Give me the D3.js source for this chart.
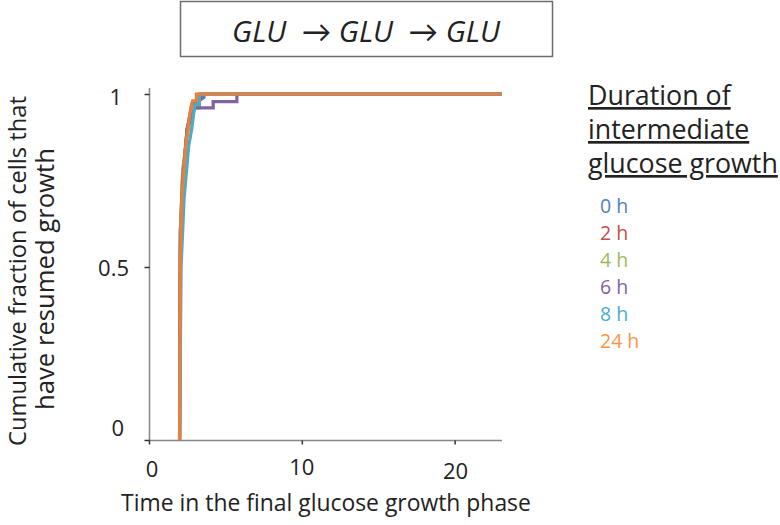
<!DOCTYPE html>
<html><head><meta charset="utf-8">
<script src="https://cdn.jsdelivr.net/npm/d3@7"></script>
<style>body{margin:0;background:#fff}</style>
</head><body>
<svg id="c" width="780" height="525"></svg>
<script>
const categories = ["0 h","2 h","4 h","6 h","8 h","24 h"];
const colors = ["#4f81bd","#c0504d","#9bbb59","#8064a2","#4bacc6","#e8803f"];
const times_0h  = [2.0, 2.05, 2.2, 2.5, 2.9, 3.6, 3.6, 23.1];
const frac_0h   = [0, 0.6, 0.76, 0.9, 0.97, 0.99, 1, 1];
const times_2h  = [2.0, 2.05, 2.2, 2.5, 2.8, 3.4, 3.4, 23.1];
const frac_2h   = [0, 0.6, 0.75, 0.9, 0.97, 0.985, 1, 1];
const times_4h  = [2.0, 2.05, 2.2, 2.5, 2.9, 3.3, 3.3, 23.1];
const frac_4h   = [0, 0.6, 0.78, 0.88, 0.96, 0.96, 1, 1];
const times_6h  = [2.0, 2.05, 2.2, 2.5, 3.0, 4.2, 4.2, 5.75, 5.75, 23.1];
const frac_6h   = [0, 0.55, 0.75, 0.9, 0.96, 0.96, 0.978, 0.978, 1, 1];
const times_8h  = [2.0, 2.1, 2.3, 2.6, 2.8, 3.0, 3.3, 3.3, 23.1];
const frac_8h   = [0, 0.5, 0.7, 0.85, 0.9, 0.97, 0.97, 1, 1];
const times_24h = [2.0, 2.05, 2.15, 2.4, 2.7, 2.85, 3.1, 3.1, 23.1];
const frac_24h  = [0, 0.5, 0.7, 0.85, 0.95, 0.98, 0.98, 1, 1];
const seriesTimes = [times_0h, times_2h, times_4h, times_6h, times_8h, times_24h];
const seriesFracs = [frac_0h, frac_2h, frac_4h, frac_6h, frac_8h, frac_24h];
const xTicks = [0, 10, 20];
const yTicks = [0, 0.5, 1];
const yTickLabels = ["0", "0.5", "1"];
const titleText = "GLU  \u2192 GLU  \u2192 GLU";
const legendTitle = ["Duration of", "intermediate", "glucose growth"];

const svg = d3.select("#c");
const FONT = "'Open Sans', Lato, sans-serif";
const x = d3.scaleLinear().domain([0, 23.1]).range([149, 502]);
const y = d3.scaleLinear().domain([0, 1]).range([440, 94]);
const axisColor = "#868686";

function fit(sel, target) {
  const fs = +sel.attr("font-size");
  const w = sel.node().getComputedTextLength();
  sel.attr("font-size", (fs * target / w).toFixed(2));
  return +sel.attr("font-size");
}

// title box
svg.append("rect").attr("x", 180.5).attr("y", 1.5).attr("width", 372).attr("height", 55)
  .attr("fill", "#fff").attr("stroke", "#6e6e6e").attr("stroke-width", 1.5);
const tt = svg.append("text").attr("x", 366).attr("y", 42).attr("text-anchor", "middle")
  .attr("font-family", FONT).attr("font-style", "italic").attr("font-size", 24)
  .attr("fill", "#222").style("white-space", "pre").text(titleText);
fit(tt, 268);

// axes
const gx = svg.append("g").attr("transform", "translate(0,440.5)")
  .call(d3.axisBottom(x).tickValues(xTicks).tickSize(4).tickFormat(""));
const gy = svg.append("g").attr("transform", "translate(149.5,0)")
  .call(d3.axisLeft(y).tickValues(yTicks).tickSize(5).tickFormat(""));
[gx, gy].forEach(g => {
  g.select(".domain").attr("stroke", axisColor).attr("stroke-width", 1.5);
  g.selectAll(".tick line").attr("stroke", "#333").attr("stroke-width", 1.5);
});
gy.select(".domain").attr("d", "M0,88V440");
gx.select(".domain").attr("d", "M149,0H502");

// tick labels
const yOff = [-12, 1, 3];
const yRight = [124, 129, 122];
svg.selectAll(".ylab").data(yTicks).join("text")
  .attr("x", (d, i) => yRight[i]).attr("y", (d, i) => y(d) + yOff[i]).attr("dy", "0.35em")
  .attr("text-anchor", "end").attr("font-family", FONT).attr("font-size", 22).attr("fill", "#222")
  .text((d, i) => yTickLabels[i]);
const xOff = [3, 0, 1];
const xDy = [29, 27, 31];
svg.selectAll(".xlab").data(xTicks).join("text")
  .attr("x", (d, i) => x(d) + xOff[i]).attr("y", (d, i) => 440 + xDy[i])
  .attr("dy", "0.35em").attr("text-anchor", "middle").attr("font-family", FONT)
  .attr("font-size", 22).attr("fill", "#222").text(d => d);

// axis titles
const xt = svg.append("text").attr("x", 326).attr("y", 511).attr("text-anchor", "middle")
  .attr("font-family", FONT).attr("font-size", 20).attr("fill", "#222")
  .text("Time in the final glucose growth phase");
fit(xt, 410);
const yl1 = svg.append("text").attr("transform", "translate(26,271) rotate(-90)")
  .attr("text-anchor", "middle").attr("font-family", FONT).attr("font-size", 20).attr("fill", "#222")
  .text("Cumulative fraction of cells that");
fit(yl1, 350);
const yl2 = svg.append("text").attr("transform", "translate(54,279) rotate(-90)")
  .attr("text-anchor", "middle").attr("font-family", FONT).attr("font-size", 20).attr("fill", "#222")
  .text("have resumed growth");
fit(yl2, 262);

// lines
const line = d3.line().x(d => x(d[0])).y(d => y(d[1]));
categories.forEach((c, i) => {
  const pts = seriesTimes[i].map((t, j) => [t, seriesFracs[i][j]]);
  svg.append("path").datum(pts).attr("d", line).attr("fill", "none")
    .attr("stroke", colors[i]).attr("stroke-width", 3.2).attr("stroke-linejoin", "miter");
});

// legend
const lt = legendTitle.map((t, i) => svg.append("text").attr("x", 588).attr("y", 105 + i * 34)
  .attr("font-family", FONT).attr("font-size", 23).attr("fill", "#222")
  .attr("text-decoration", "underline").text(t));
const lfs = fit(lt[2], 190);
lt.forEach(s => s.attr("font-size", lfs));
const legendColors = ["#4f81bd","#c0504d","#9bbb59","#8064a2","#4bacc6","#f79646"];
categories.forEach((c, i) => {
  svg.append("text").attr("x", 600).attr("y", 213 + i * 27).attr("font-family", FONT)
    .attr("font-size", 19.5).attr("fill", legendColors[i]).text(c);
});
</script>
</body></html>
